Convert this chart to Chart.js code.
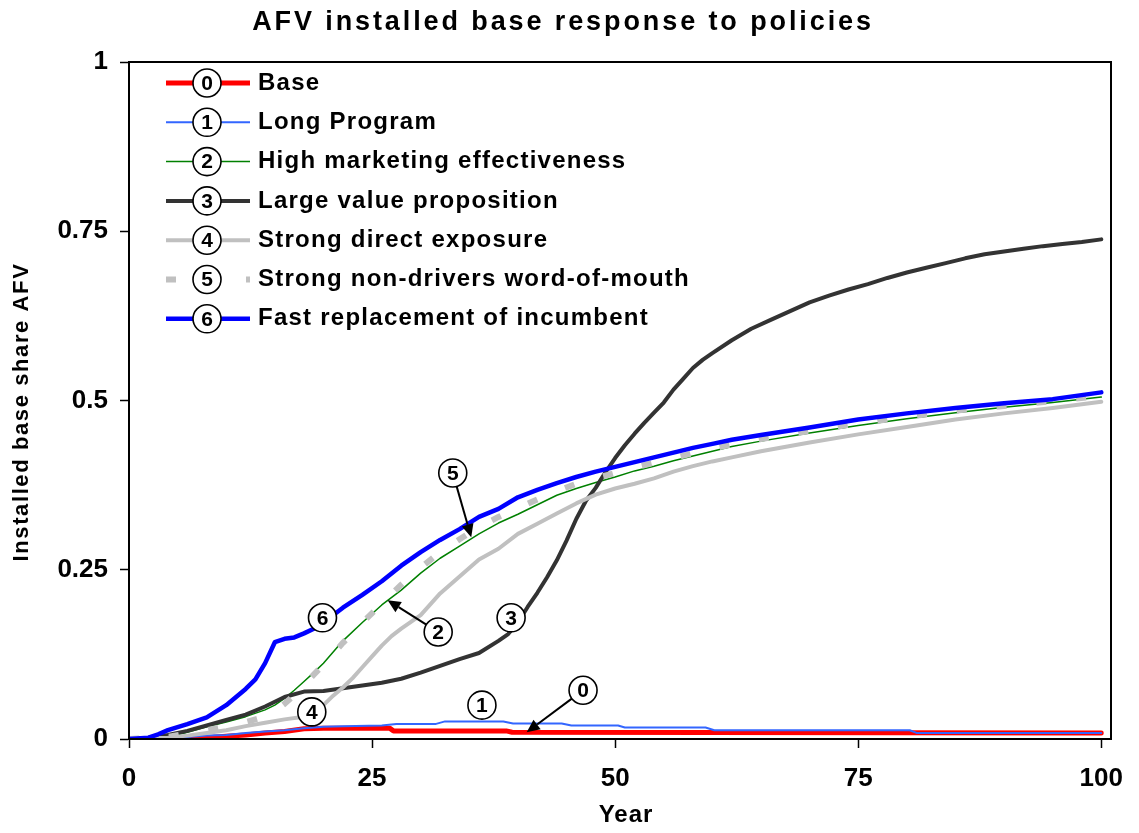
<!DOCTYPE html>
<html>
<head>
<meta charset="utf-8">
<script src="https://cdn.jsdelivr.net/npm/chart.js@4/dist/chart.umd.min.js"></script>
<style>
html,body{margin:0;padding:0;background:#fff;}
#wrap{width:1139px;height:833px;}
</style>
</head>
<body>
<div id="wrap"><canvas id="c" width="1139" height="833"></canvas></div>
<script>
// ---- chart data ----
const chartTitle = "AFV installed base response to policies";
const xTitle = "Year";
const yTitle = "Installed base share AFV";
const seriesLabels = ["Base","Long Program","High marketing effectiveness","Large value proposition","Strong direct exposure","Strong non-drivers word-of-mouth","Fast replacement of incumbent"];
const xTicks = [0,25,50,75,100];
const yTicks = [0,0.25,0.5,0.75,1];

const yearsBase = [0,4,8,10,12,14,16,18,20,26.8,27.2,38.8,39.4,100];
const valuesBase = [0,0.001,0.002,0.004,0.006,0.009,0.011,0.015,0.016,0.016,0.012,0.012,0.010,0.009];

const yearsLong = [0,4,6,8,10,12,14,16,18,20,22,26,27.5,31.5,32.5,38.5,39.5,44.5,45.5,50.3,51,59.3,60.2,80.3,81,100];
const valuesLong = [0,0.001,0.003,0.005,0.006,0.009,0.011,0.013,0.016,0.018,0.019,0.020,0.022,0.022,0.026,0.026,0.023,0.023,0.020,0.020,0.017,0.017,0.013,0.013,0.009,0.009];

const yearsMkt = [0,4,6,8,10,12,14,15,16,17,18,19,20,22,24,26,28,30,32,34,36,38,40,42,44,46,48,50,52,54,56,58,60,62,65,70,75,80,85,90,95,100];
const valuesMkt = [0,0.003,0.010,0.018,0.025,0.033,0.043,0.050,0.060,0.072,0.085,0.098,0.112,0.145,0.172,0.198,0.220,0.245,0.267,0.285,0.303,0.319,0.332,0.346,0.360,0.370,0.379,0.387,0.396,0.403,0.411,0.418,0.425,0.432,0.440,0.452,0.463,0.473,0.482,0.490,0.497,0.505];

const yearsValue = [0,2,4,6,8,10,12,14,16,18,20,22,24,26,28,30,32,34,36,38,39,40,41,42,43,44,45,46,47,48,49,50,51,52,53,54,55,56,57,58,59,60,62,64,66,68,70,72,74,76,78,80,82,84,86,88,90,92,94,96,98,100];
const valuesValue = [0,0.002,0.006,0.012,0.020,0.028,0.036,0.048,0.062,0.070,0.071,0.075,0.079,0.083,0.089,0.098,0.108,0.118,0.127,0.145,0.155,0.172,0.195,0.216,0.239,0.264,0.293,0.325,0.352,0.371,0.394,0.415,0.434,0.451,0.467,0.482,0.497,0.516,0.532,0.548,0.560,0.570,0.589,0.606,0.619,0.632,0.645,0.655,0.664,0.672,0.681,0.689,0.696,0.703,0.710,0.716,0.720,0.724,0.728,0.731,0.734,0.738];

const yearsDirect = [0,4,6,8,10,12,14,16,18,19,20,21,22,23,24,25,26,27,28,30,32,34,36,38,40,42,44,46,48,50,52,54,56,58,60,62,65,70,75,80,85,90,95,100];
const valuesDirect = [0,0.002,0.005,0.009,0.013,0.019,0.024,0.029,0.033,0.038,0.050,0.064,0.076,0.090,0.106,0.122,0.138,0.152,0.163,0.183,0.215,0.240,0.265,0.281,0.303,0.318,0.333,0.348,0.361,0.370,0.377,0.385,0.395,0.403,0.410,0.416,0.425,0.438,0.450,0.461,0.472,0.481,0.489,0.498];

const yearsWom = yearsMkt;
const valuesWom = [0,0.003,0.008,0.013,0.019,0.025,0.033,0.041,0.052,0.065,0.080,0.095,0.110,0.142,0.172,0.200,0.228,0.253,0.276,0.295,0.313,0.328,0.341,0.354,0.366,0.377,0.385,0.393,0.401,0.408,0.415,0.422,0.429,0.435,0.443,0.455,0.466,0.476,0.485,0.492,0.499,0.507];

const yearsFast = [0,2,3,4,6,8,10,12,13,14,15,16,17,18,19,20,22,24,26,28,30,32,34,36,38,40,42,44,46,48,50,52,54,56,58,60,62,65,70,75,80,85,90,95,100];
const valuesFast = [0,0.002,0.007,0.013,0.022,0.032,0.050,0.074,0.088,0.112,0.143,0.148,0.150,0.156,0.163,0.172,0.194,0.213,0.233,0.256,0.276,0.294,0.310,0.328,0.340,0.357,0.368,0.378,0.387,0.395,0.402,0.409,0.416,0.423,0.430,0.436,0.442,0.449,0.460,0.472,0.481,0.489,0.496,0.502,0.512];

// in-plot callouts (series number, circle position, optional arrow tip) in data units
const calloutIds   = [5, 2, 3, 1, 0, 6, 4];
const calloutX     = [33.3, 31.8, 39.3, 36.3, 46.7, 19.9, 18.8];
const calloutY     = [0.393, 0.158, 0.179, 0.050, 0.072, 0.179, 0.040];
const arrowTipX    = [35.2, 26.6, null, null, 40.9, null, null];
const arrowTipY    = [0.298, 0.205, null, null, 0.010, null, null];

// ---- build ----
function pts(xs, ys){ const n=Math.min(xs.length, ys.length); const a=[]; for(let i=0;i<n;i++) a.push({x:xs[i], y:ys[i]}); return a; }
const FONT = "'Liberation Sans', Arial, sans-serif";

const styles = [
  {color:'#FF0000', width:5},
  {color:'#3366FF', width:2},
  {color:'#008000', width:1.5},
  {color:'#333333', width:4},
  {color:'#C0C0C0', width:4},
  {color:'#C0C0C0', width:6, dash:[10,30]},
  {color:'#0000FF', width:4.5}
];
const seriesData = [pts(yearsBase,valuesBase), pts(yearsLong,valuesLong), pts(yearsMkt,valuesMkt), pts(yearsValue,valuesValue), pts(yearsDirect,valuesDirect), pts(yearsWom,valuesWom), pts(yearsFast,valuesFast)];

const datasets = seriesData.map((d,i)=>({
  label: seriesLabels[i],
  data: d,
  borderColor: styles[i].color,
  backgroundColor: styles[i].color,
  borderWidth: styles[i].width,
  borderDash: styles[i].dash || [],
  borderCapStyle: styles[i].dash ? 'butt' : 'round',
  borderJoinStyle: 'round',
  pointRadius: 0,
  tension: 0,
  fill: false,
  order: 6 - i
}));

function circleNum(ctx, x, y, n){
  ctx.save();
  ctx.beginPath(); ctx.arc(x, y, 14, 0, Math.PI*2);
  ctx.fillStyle='#fff'; ctx.fill();
  ctx.lineWidth=1.6; ctx.strokeStyle='#000'; ctx.setLineDash([]); ctx.stroke();
  ctx.fillStyle='#000'; ctx.font='bold 21px '+FONT; ctx.textAlign='center'; ctx.textBaseline='middle';
  ctx.fillText(String(n), x, y+1);
  ctx.restore();
}
function text(ctx, s, x, y, font, align, spacing, rot){
  ctx.save();
  ctx.translate(x,y); if(rot) ctx.rotate(rot);
  ctx.font=font; ctx.letterSpacing=(spacing||0)+'px';
  ctx.textAlign=align; ctx.textBaseline='middle'; ctx.fillStyle='#000';
  ctx.fillText(s,0,0);
  ctx.restore();
}

const overlay = {
  id:'overlay',
  beforeDraw(chart){
    const ctx=chart.ctx; ctx.save(); ctx.fillStyle='#fff'; ctx.fillRect(0,0,chart.width,chart.height); ctx.restore();
  },
  afterDatasetsDraw(chart){
    const ctx=chart.ctx, a=chart.chartArea, xs=chart.scales.x, ys=chart.scales.y;
    ctx.save(); ctx.strokeStyle='#000'; ctx.lineWidth=2; ctx.strokeRect(a.left, a.top, a.right-a.left, a.bottom-a.top); ctx.restore();
    for(let i=0;i<calloutIds.length;i++){
      const cx=xs.getPixelForValue(calloutX[i]), cy=ys.getPixelForValue(calloutY[i]);
      if(arrowTipX[i]!==null){
        const tx=xs.getPixelForValue(arrowTipX[i]), ty=ys.getPixelForValue(arrowTipY[i]);
        const ang=Math.atan2(ty-cy, tx-cx);
        const sx=cx+Math.cos(ang)*14, sy=cy+Math.sin(ang)*14;
        const hl=13, hw=6;
        const bx=tx-Math.cos(ang)*hl, by=ty-Math.sin(ang)*hl;
        ctx.save(); ctx.strokeStyle='#000'; ctx.fillStyle='#000'; ctx.lineWidth=2;
        ctx.beginPath(); ctx.moveTo(sx,sy); ctx.lineTo(bx,by); ctx.stroke();
        ctx.beginPath(); ctx.moveTo(tx,ty);
        ctx.lineTo(bx+Math.sin(ang)*hw, by-Math.cos(ang)*hw);
        ctx.lineTo(bx-Math.sin(ang)*hw, by+Math.cos(ang)*hw);
        ctx.closePath(); ctx.fill(); ctx.restore();
      }
      circleNum(ctx, cx, cy, calloutIds[i]);
    }
  },
  afterDraw(chart){
    const ctx=chart.ctx, a=chart.chartArea;
    const lx0=a.left+37, lx1=a.left+121, cxl=a.left+78, tx=a.left+129;
    for(let i=0;i<seriesLabels.length;i++){
      const y=a.top+21+i*39.3;
      const s=styles[i];
      ctx.save(); ctx.strokeStyle=s.color; ctx.lineWidth=s.width; ctx.setLineDash(s.dash||[]);
      ctx.lineCap='butt';
      ctx.beginPath(); ctx.moveTo(lx0,y); ctx.lineTo(lx1,y); ctx.stroke(); ctx.restore();
      circleNum(ctx, cxl, y, i);
      text(ctx, seriesLabels[i], tx, y, 'bold 24px '+FONT, 'left', 1.25);
    }
    text(ctx, chartTitle, 563, 23, 'bold 27px '+FONT, 'center', 2.9);
    text(ctx, xTitle, 626, 815, 'bold 24px '+FONT, 'center', 1);
    text(ctx, yTitle, 22, 412, 'bold 22px '+FONT, 'center', 1.6, -Math.PI/2);
  }
};

const chart = new Chart(document.getElementById('c'), {
  type:'line',
  data:{datasets},
  plugins:[overlay],
  options:{
    responsive:false, animation:false, devicePixelRatio:1,
    layout:{padding:{left:0,right:28,top:62,bottom:0}},
    plugins:{legend:{display:false}, title:{display:false}, tooltip:{enabled:false}},
    scales:{
      x:{
        type:'linear', min:0, max:101,
        afterBuildTicks(s){ s.ticks = xTicks.map(v=>({value:v})); },
        afterFit(s){ s.height = 833-739; },
        grid:{drawOnChartArea:false, tickLength:9, tickColor:'#000', tickWidth:1.5},
        border:{display:true, color:'#000', width:2},
        ticks:{color:'#000', font:{family:FONT, size:26, weight:'bold'}, padding:15, maxRotation:0, autoSkip:false,
          callback:(v)=>String(v)}
      },
      y:{
        type:'linear', min:0, max:1,
        afterBuildTicks(s){ s.ticks = yTicks.map(v=>({value:v})); },
        afterFit(s){ s.width = 129; },
        grid:{drawOnChartArea:false, tickLength:9, tickColor:'#000', tickWidth:1.5},
        border:{display:true, color:'#000', width:2},
        ticks:{color:'#000', font:{family:FONT, size:26, weight:'bold'}, padding:12, autoSkip:false,
          callback:(v)=>String(v)}
      }
    }
  }
});
</script>
</body>
</html>
